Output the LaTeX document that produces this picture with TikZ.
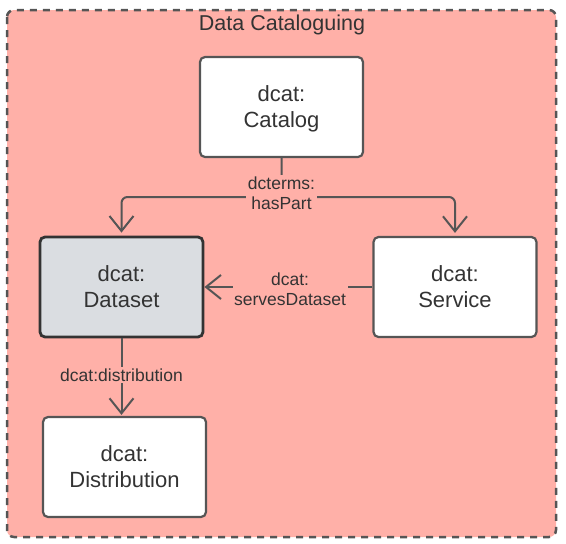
\documentclass[tikz,border=0pt]{standalone}
\usepackage{fontspec}
\setmainfont{Liberation Sans}
\usetikzlibrary{arrows.meta}
\definecolor{bgpink}{HTML}{FFB0A8}
\definecolor{edgegrey}{HTML}{555555}
\definecolor{txt}{HTML}{333333}
\definecolor{dsgrey}{HTML}{DADDE1}
\newcommand{\twolines}[2]{\raisebox{-7.5pt}[0pt][0pt]{\begin{tabular}{@{}c@{}}#1\\#2\end{tabular}}}
\tikzset{
  cls/.style={draw=edgegrey, line width=2.2pt, fill=white, rounded corners=5pt,
    minimum width=163pt, minimum height=100pt, align=center, text=txt,
    font=\fontsize{22}{26}\selectfont, inner sep=0pt},
  conn/.style={draw=edgegrey, line width=2pt, -{Straight Barb[length=15pt,width=24pt,line width=2pt]}},
  lbl/.style={fill=bgpink, text=txt, align=center, font=\fontsize{17.5}{20}\selectfont, inner sep=1.5pt},
}
\begin{document}
\begin{tikzpicture}[x=1pt,y=-1pt]
\useasboundingbox (0,0) rectangle (566,544);
\draw[draw=edgegrey, fill=bgpink, line width=2.5pt, dash pattern=on 7pt off 6pt, rounded corners=7pt] (7,10) rectangle (556,537);
\node[text=txt, font=\fontsize{21.5}{24}\selectfont] (title) at (282,25) {Data Cataloguing};
\node[cls] (catalog) at (281.5,107) {\twolines{dcat:}{Catalog}};
\node[cls, fill=dsgrey, draw=txt, line width=2.8pt] (dataset) at (121.5,287) {\twolines{dcat:}{Dataset}};
\node[cls] (service) at (455,287) {\twolines{dcat:}{Service}};
\node[cls] (distribution) at (124.5,467) {\twolines{dcat:}{Distribution}};
\coordinate (hp) at (281.5,197);
\draw[conn, rounded corners=6pt, shorten >=3pt] (catalog.south) -- (hp) -| (dataset.north);
\draw[conn, rounded corners=6pt, shorten >=3pt] (hp) -| (service.north);
\node[lbl] (hplbl) at (281.5,193) {dcterms:\\hasPart};
\draw[conn] (service.west) -- (dataset.east) node[lbl, pos=0.49, yshift=-2pt] (sdlbl) {dcat:\\servesDataset};
\draw[conn, shorten >=1pt] (dataset.south) -- (distribution.north -| dataset.south) node[lbl, pos=0.47] (dlbl) {dcat:distribution};
\end{tikzpicture}
\end{document}
